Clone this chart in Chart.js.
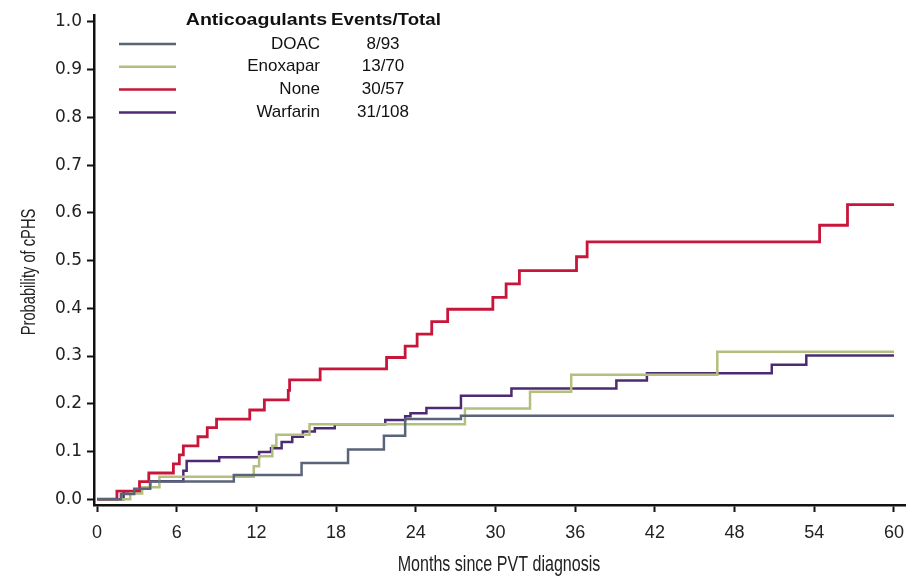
<!DOCTYPE html>
<html>
<head>
<meta charset="utf-8">
<script src="https://cdn.jsdelivr.net/npm/chart.js@4.4.1/dist/chart.umd.min.js"></script>
<style>
  html, body { margin: 0; padding: 0; background: #fff; }
  #wrap { width: 922px; height: 576px; }
</style>
</head>
<body>
<div id="wrap"><canvas id="cphsChart" width="922" height="576"></canvas></div>
<script>
// Cumulative probability of cPHS by anticoagulant (step curves)
const groups = ['DOAC', 'Enoxapar', 'None', 'Warfarin'];
const eventsTotal = ['8/93', '13/70', '30/57', '31/108'];

const doacMonths = [0, 1.8, 2.8, 4.0, 10.3, 15.4, 18.9, 21.6, 23.2, 27.4, 60];
const doacProb   = [0, 0.011, 0.022, 0.037, 0.051, 0.076, 0.104, 0.133, 0.168, 0.175, 0.175];

const enoxMonths = [0, 2.5, 3.4, 4.7, 11.8, 12.2, 13.2, 13.5, 16.0, 27.7, 32.6, 35.7, 46.7, 60];
const enoxProb   = [0, 0.012, 0.025, 0.047, 0.069, 0.09, 0.112, 0.135, 0.157, 0.19, 0.225, 0.261, 0.309, 0.309];

const noneMonths = [0, 1.5, 3.2, 3.9, 5.75, 6.2, 6.5, 7.6, 8.3, 9.0, 11.5, 12.6, 14.4, 14.5, 16.8,
                    21.8, 23.2, 24.1, 25.2, 26.4, 29.8, 30.8, 31.8, 36.1, 36.9, 54.4, 56.5, 60];
const noneProb   = [0, 0.017, 0.037, 0.055, 0.074, 0.093, 0.112, 0.131, 0.15, 0.168, 0.187, 0.208, 0.228, 0.25, 0.273,
                    0.297, 0.321, 0.346, 0.372, 0.398, 0.423, 0.451, 0.479, 0.508, 0.539, 0.574, 0.617, 0.617];

const warfMonths = [0, 2.0, 3.3, 4.0, 6.5, 6.75, 9.2, 12.2, 13.1, 13.9, 14.7, 15.5, 16.4, 17.9,
                    21.7, 23.2, 23.6, 24.8, 27.4, 31.2, 39.1, 41.4, 50.8, 53.4, 60];
const warfProb   = [0, 0.017, 0.024, 0.038, 0.06, 0.08, 0.088, 0.099, 0.107, 0.12, 0.131, 0.142, 0.149, 0.157,
                    0.166, 0.174, 0.18, 0.191, 0.217, 0.232, 0.249, 0.264, 0.282, 0.301, 0.301];

const xTicks = [0, 6, 12, 18, 24, 30, 36, 42, 48, 54, 60];
const yTicks = [0, 0.1, 0.2, 0.3, 0.4, 0.5, 0.6, 0.7, 0.8, 0.9, 1.0];

const xTitle = 'Months since PVT diagnosis';
const yTitle = 'Probability of cPHS';

const colors = ['#5a6479', '#b3bf7e', '#c8163b', '#4e2a72'];

function toPoints(months, probs) {
    return months.map((m, i) => ({ x: m, y: probs[i] }));
}

const seriesData = [
    toPoints(doacMonths, doacProb),
    toPoints(enoxMonths, enoxProb),
    toPoints(noneMonths, noneProb),
    toPoints(warfMonths, warfProb)
];

// narrow, tall axis titles like the original figure
const axisTitles = {
    id: 'axisTitles',
    afterDraw(chart) {
        const ctx = chart.ctx;
        const area = chart.chartArea;
        ctx.save();
        ctx.fillStyle = '#222';
        ctx.font = '22px "Liberation Sans", Arial, sans-serif';
        ctx.textAlign = 'center';
        ctx.textBaseline = 'alphabetic';
        ctx.save();
        ctx.translate(499, 571);
        ctx.scale(0.73, 1);
        ctx.fillText(xTitle, 0, 0);
        ctx.restore();
        ctx.save();
        ctx.font = '21px "Liberation Sans", Arial, sans-serif';
        ctx.translate(35, 272);
        ctx.rotate(-Math.PI / 2);
        ctx.scale(0.7, 1);
        ctx.fillText(yTitle, 0, 0);
        ctx.restore();
        ctx.restore();
    }
};

// Table-style legend in the upper left
const legendTable = {
    id: 'legendTable',
    afterDraw(chart) {
        const ctx = chart.ctx;
        ctx.save();
        ctx.fillStyle = '#111';
        ctx.textBaseline = 'middle';
        ctx.font = 'bold 17px "Liberation Sans", Arial, sans-serif';
        ctx.save();
        ctx.translate(327, 20);
        ctx.scale(1.15, 1);
        ctx.textAlign = 'right';
        ctx.fillText('Anticoagulants', 0, 0);
        ctx.restore();
        ctx.save();
        ctx.translate(386, 20);
        ctx.scale(1.1, 1);
        ctx.textAlign = 'center';
        ctx.fillText('Events/Total', 0, 0);
        ctx.restore();
        ctx.font = '17px "Liberation Sans", Arial, sans-serif';
        groups.forEach((g, i) => {
            const y = 44 + i * 22.8;
            ctx.strokeStyle = colors[i];
            ctx.lineWidth = 2.5;
            ctx.beginPath();
            ctx.moveTo(119, y);
            ctx.lineTo(176, y);
            ctx.stroke();
            ctx.textAlign = 'right';
            ctx.fillText(g, 320, y);
            ctx.textAlign = 'center';
            ctx.fillText(eventsTotal[i], 383, y);
        });
        ctx.restore();
    }
};

const ctx = document.getElementById('cphsChart').getContext('2d');
new Chart(ctx, {
    type: 'line',
    data: {
        datasets: groups.map((g, i) => ({
            label: g,
            data: seriesData[i],
            borderColor: colors[i],
            borderWidth: i === 2 ? 2.8 : 2.5,
            stepped: true,
            pointRadius: 0,
            fill: false
        }))
    },
    options: {
        responsive: false,
        animation: false,
        layout: { padding: { left: 0, right: 17, top: 12, bottom: 0 } },
        plugins: { legend: { display: false }, tooltip: { enabled: false } },
        scales: {
            x: {
                type: 'linear',
                min: -0.226,
                max: 60.83,
                afterBuildTicks: (s) => { s.ticks = xTicks.map(v => ({ value: v })); },
                afterFit: (s) => { s.height = 71; },
                ticks: {
                    color: '#222',
                    padding: 10,
                    maxRotation: 0,
                    font: { family: '"Liberation Sans", Arial, sans-serif', size: 18 }
                },
                grid: { drawOnChartArea: false, color: '#111', tickLength: 7, tickWidth: 2 },
                border: { color: '#111', width: 2.5 }
            },
            y: {
                min: -0.012,
                max: 1.014,
                afterBuildTicks: (s) => { s.ticks = yTicks.map(v => ({ value: v })); },
                afterFit: (s) => { s.width = 94; },
                ticks: {
                    color: '#222',
                    padding: 5,
                    callback: (v) => v.toFixed(1),
                    font: { family: '"DejaVu Sans", sans-serif', size: 17 }
                },
                grid: { drawOnChartArea: false, color: '#111', tickLength: 7, tickWidth: 2 },
                border: { color: '#111', width: 2.5 }
            }
        }
    },
    plugins: [legendTable, axisTitles]
});
</script>
</body>
</html>
